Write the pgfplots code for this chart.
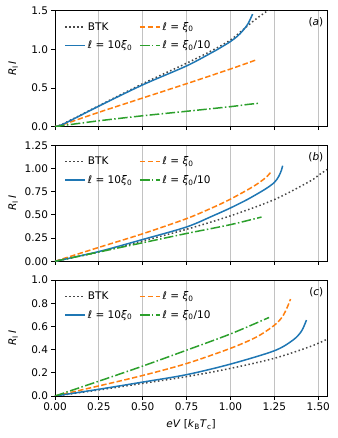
\documentclass[border=0pt]{standalone}
\usepackage{fontspec}
\setmainfont{DejaVu Sans}
\usepackage{pgfplots}
\pgfplotsset{compat=1.18}

\definecolor{mplblue}{HTML}{1F77B4}
\definecolor{mplorange}{HTML}{FF7F0E}
\definecolor{mplgreen}{HTML}{2CA02C}

\tikzset{
  btk/.style={black!72, line width=1.5pt, dash pattern=on 1.5pt off 2.5pt},
  lten/.style={mplblue, line width=1.5pt},
  lone/.style={mplorange, line width=1.5pt, dash pattern=on 5.5pt off 2.4pt},
  ltenth/.style={mplgreen, line width=1.5pt,
                 dash pattern=on 9.6pt off 2.4pt on 1.5pt off 2.4pt},
  tag/.style={font=\fontsize{10.5}{12}\selectfont, anchor=north east, inner sep=0pt},
}

\pgfplotsset{
  panel/.style={
    scale only axis, width=272pt, height=116pt,
    xmin=0, xmax=1.55,
    xtick={0,0.25,0.5,0.75,1,1.25,1.5},
    xmajorgrids, grid style={color=black!24, line width=0.8pt},
    tick align=outside, major tick length=3.5pt,
    tick style={black, line width=0.8pt},
    xtick pos=left, ytick pos=left,
    axis line style={line width=0.8pt},
    font=\fontsize{10.5}{12}\selectfont,
    /pgf/number format/assume math mode=true,
    ylabel={\textit{R}\textsubscript{I}\,\textit{I}},
    y label style={at={(axis description cs:-0.154,0.5)}, anchor=center},
    x label style={yshift=-2pt},
    legend style={at={(axis description cs:0.034,0.918)}, anchor=north west,
                  draw=none, fill=none, inner sep=0pt,
                  font=\fontsize{10.5}{12}\selectfont,
                  row sep=5pt,
                  /tikz/every even column/.append style={column sep=5pt}},
    legend columns=2, legend cell align=left,
    legend image code/.code={
      \draw[##1] (0pt,0pt) -- (20pt,0pt);},
  },
}

\begin{document}
\begin{tikzpicture}

% (a)
\begin{axis}[panel, at={(0pt,269.4pt)},
  ymin=0, ymax=1.5, ytick={0,0.5,1,1.5},
  yticklabels={0.0,0.5,1.0,1.5}, xticklabels={}]
\addplot[btk, smooth] coordinates {
  (0,0) (0.05,0.04) (0.25,0.27) (0.5,0.555) (0.75,0.82) (0.9,0.99)
  (1.0,1.12) (1.07,1.25) (1.139,1.38) (1.206,1.49) (1.25,1.56) };
\addplot[lone, smooth] coordinates {
  (0,0) (0.05,0.03) (0.25,0.185) (0.5,0.37) (0.75,0.555) (1.0,0.745)
  (1.141,0.858) };
\addplot[lten, smooth] coordinates {
  (0,0) (0.05,0.035) (0.25,0.265) (0.5,0.54) (0.75,0.785) (0.9,0.965)
  (0.95,1.03) (1.0,1.10) (1.04,1.17) (1.07,1.24) (1.1,1.33) (1.126,1.455) };
\addplot[ltenth, smooth] coordinates {
  (0,0) (0.05,0.015) (0.25,0.075) (0.5,0.14) (0.75,0.198) (1.0,0.258)
  (1.1,0.287) (1.167,0.302) };
\legend{BTK, {\textit{ℓ} = \textit{ξ}\textsubscript{0}},
  {\textit{ℓ} = 10\textit{ξ}\textsubscript{0}},
  {\textit{ℓ} = \textit{ξ}\textsubscript{0}/10}}
\node[tag] at (rel axis cs:0.987,0.94) {(\textit{a})};
\end{axis}

% (b)
\begin{axis}[panel, at={(0pt,134.7pt)},
  ymin=0, ymax=1.25, ytick={0,0.25,0.5,0.75,1,1.25},
  yticklabels={0.00,0.25,0.50,0.75,1.00,1.25}, xticklabels={}]
\addplot[btk, smooth] coordinates {
  (0,0) (0.25,0.10) (0.5,0.22) (0.75,0.345) (1.0,0.49) (1.25,0.665)
  (1.452,0.862) (1.5,0.925) (1.55,0.99) };
\addplot[lone, smooth] coordinates {
  (0,0) (0.25,0.15) (0.5,0.297) (0.75,0.46) (0.9,0.58) (1.0,0.67)
  (1.129,0.805) (1.2,0.9) (1.234,0.97) };
\addplot[lten, smooth] coordinates {
  (0,0) (0.25,0.105) (0.5,0.235) (0.75,0.37) (0.9,0.49) (1.0,0.575)
  (1.1,0.67) (1.2,0.78) (1.25,0.85) (1.275,0.915) (1.29,0.98) (1.297,1.03) };
\addplot[ltenth, smooth] coordinates {
  (0,0) (0.25,0.10) (0.5,0.20) (0.75,0.30) (1.0,0.395) (1.177,0.477) };
\legend{BTK, {\textit{ℓ} = \textit{ξ}\textsubscript{0}},
  {\textit{ℓ} = 10\textit{ξ}\textsubscript{0}},
  {\textit{ℓ} = \textit{ξ}\textsubscript{0}/10}}
\node[tag] at (rel axis cs:0.987,0.94) {(\textit{b})};
\end{axis}

% (c)
\begin{axis}[panel, at={(0pt,0pt)},
  ymin=0, ymax=1.0, ytick={0,0.2,0.4,0.6,0.8,1.0},
  yticklabels={0.0,0.2,0.4,0.6,0.8,1.0},
  xticklabels={0.00,0.25,0.50,0.75,1.00,1.25,1.50},
  xlabel={\textit{eV} [\textit{k}\textsubscript{B}\textit{T}\textsubscript{c}]}]
\addplot[btk, smooth] coordinates {
  (0,0) (0.25,0.052) (0.5,0.109) (0.75,0.167) (1.0,0.238) (1.25,0.325)
  (1.452,0.425) (1.55,0.489) };
\addplot[lone, smooth] coordinates {
  (0,0) (0.25,0.087) (0.5,0.177) (0.75,0.28) (1.0,0.411) (1.15,0.51)
  (1.25,0.61) (1.296,0.684) (1.325,0.77) (1.342,0.836) };
\addplot[lten, smooth] coordinates {
  (0,0) (0.25,0.058) (0.5,0.12) (0.75,0.184) (1.0,0.275) (1.25,0.39)
  (1.357,0.483) (1.405,0.56) (1.433,0.655) };
\addplot[ltenth, smooth] coordinates {
  (0,0) (0.25,0.128) (0.5,0.258) (0.75,0.395) (1.0,0.535) (1.22,0.677) };
\legend{BTK, {\textit{ℓ} = \textit{ξ}\textsubscript{0}},
  {\textit{ℓ} = 10\textit{ξ}\textsubscript{0}},
  {\textit{ℓ} = \textit{ξ}\textsubscript{0}/10}}
\node[tag] at (rel axis cs:0.987,0.94) {(\textit{c})};
\end{axis}

\pgfresetboundingbox
\path (-55pt,-42pt) rectangle (282pt,396pt);
\end{tikzpicture}
\end{document}
